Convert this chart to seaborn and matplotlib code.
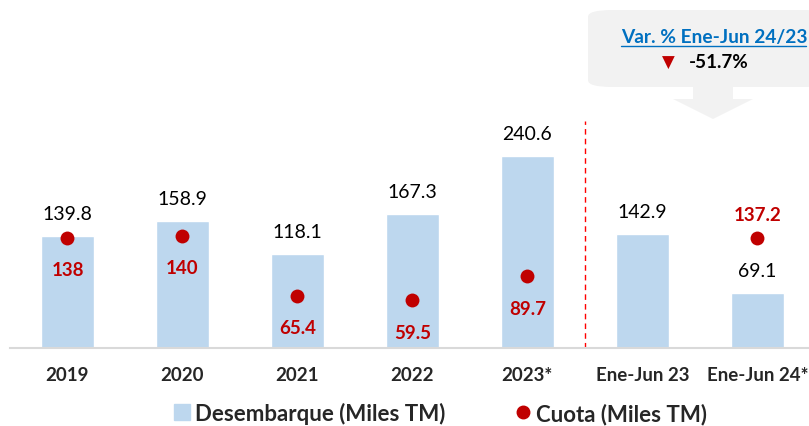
import matplotlib
matplotlib.use("Agg")
import matplotlib.pyplot as plt
import seaborn as sns
import numpy as np
from matplotlib.lines import Line2D
from matplotlib.patches import FancyBboxPatch, Polygon

# data
periodos = ["2019", "2020", "2021", "2022", "2023*", "Ene-Jun 23", "Ene-Jun 24*"]
desembarque = [139.8, 158.9, 118.1, 167.3, 240.6, 142.9, 69.1]
cuota = [138, 140, 65.4, 59.5, 89.7, np.nan, 137.2]
cuota_txt = ["138", "140", "65.4", "59.5", "89.7", "", "137.2"]
variacion = "-51.7%"

azul = "#BDD7EE"
rojo = "#C00000"

sns.set_theme(style="white")
plt.rcParams["font.family"] = ["Lato", "DejaVu Sans"]

fig = plt.figure(figsize=(8.09, 4.27), dpi=100)
ax = fig.add_axes([10 / 809, 78 / 427, 1 - 10 / 809, 349 / 427])

sns.barplot(x=periodos, y=desembarque, color=azul, saturation=1, width=0.46, ax=ax)
sns.stripplot(x=periodos, y=cuota, color=rojo, jitter=False, size=10, ax=ax, zorder=3)

ax.set_ylim(0, 349 / 0.8)
ax.set_xlim(-0.5, 6.45)

# bar value labels
for i, v in enumerate(desembarque):
    ax.annotate(f"{v:.1f}", (i, v), xytext=(0, 10), textcoords="offset points",
                ha="center", va="bottom", fontsize=14, color="black")

# cuota labels (below the dot, except last one above)
for i, (v, t) in enumerate(zip(cuota, cuota_txt)):
    if not t:
        continue
    off = 11 if i == 6 else -23
    va = "bottom" if i == 6 else "center"
    ax.annotate(t, (i, v), xytext=(0, off), textcoords="offset points",
                ha="center", va=va, fontsize=13.5, fontweight="bold", color=rojo)

# separator between annual and semester data
ax.plot([4.5, 4.5], [0, 284], color="#FF0000", lw=1, ls=(0, (4, 3)))

for s in ["top", "right", "left"]:
    ax.spines[s].set_visible(False)
ax.spines["bottom"].set_color("#D9D9D9")
ax.spines["bottom"].set_linewidth(1.5)
ax.set_yticks([])
ax.tick_params(axis="x", length=0, pad=13)
for lab in ax.get_xticklabels():
    lab.set_fontweight("bold")
    lab.set_fontsize(13.5)

# legend
handles = [
    Line2D([], [], marker="s", ls="none", color=azul, markersize=12),
    Line2D([], [], marker="o", ls="none", color=rojo, markersize=9),
]
fig.legend(handles, ["Desembarque (Miles TM)", "Cuota (Miles TM)"], loc="center",
           bbox_to_anchor=(439 / 809, 1 - 414 / 427), ncol=2, frameon=False,
           prop={"weight": "bold", "size": 16}, handletextpad=0.1,
           columnspacing=3.0, handlelength=1)

# callout box with arrow
W, H = 809, 427
box = FancyBboxPatch((588 / W, 1 - 88 / H), 240 / W, 77 / H,
                     boxstyle="round,pad=0,rounding_size=0.03",
                     transform=fig.transFigure, facecolor="#F2F2F2",
                     edgecolor="none", mutation_aspect=H / W)
fig.patches.append(box)
arrow = Polygon([(693 / W, 1 - 88 / H), (733 / W, 1 - 88 / H), (733 / W, 1 - 100 / H),
                 (753 / W, 1 - 100 / H), (713 / W, 1 - 120 / H), (673 / W, 1 - 100 / H),
                 (693 / W, 1 - 100 / H)], closed=True, transform=fig.transFigure,
                facecolor="#F2F2F2", edgecolor="none")
fig.patches.append(arrow)

fig.text(714 / W, 1 - 37 / H, "Var. % Ene-Jun 24/23", ha="center", va="center",
         fontsize=13.8, fontweight="bold", color="#0070C0")
fig.lines.append(Line2D([621 / W, 806 / W], [1 - 47 / H, 1 - 47 / H],
                        transform=fig.transFigure, color="#0070C0", lw=1))
fig.text(668 / W, 1 - 63 / H, "▼", ha="center", va="center", fontsize=12,
         color=rojo, family=["DejaVu Sans"])
fig.text(689 / W, 1 - 63 / H, variacion, ha="left", va="center",
         fontsize=13.6, fontweight="bold", color="black")

fig.savefig("out.png", dpi=100)
